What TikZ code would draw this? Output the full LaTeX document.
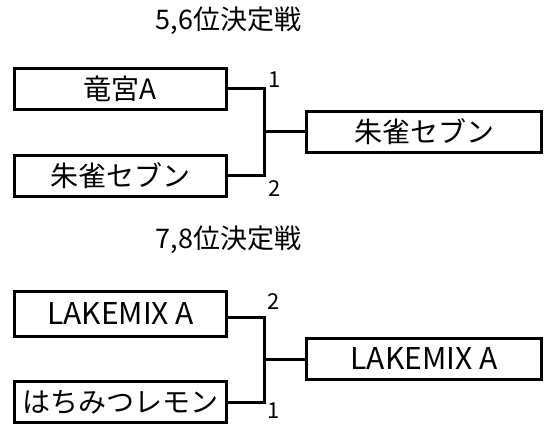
\documentclass[tikz,border=0pt]{standalone}
\usepackage{fontspec}
\setmainfont{Noto Sans CJK JP}
\begin{document}
\begin{tikzpicture}[x=1pt,y=-1pt,
  box/.style={draw,line width=3pt,inner sep=0pt,minimum width=212pt,minimum height=41pt,font=\fontsize{28}{30}\selectfont},
  winbox/.style={box,minimum width=235pt},
  latin/.style={font=\fontsize{30}{32}\selectfont},
  wire/.style={line width=3pt},
  title/.style={font=\fontsize{27}{30}\selectfont,inner sep=0pt},
  seed/.style={font=\fontsize{22}{24}\selectfont,inner sep=0pt}]
\useasboundingbox (0,0) rectangle (552,425);
% 5,6
\node[title] (t1) at (228.5,21) {5,6位決定戦};
\node[box] (b1) at (120.5,89) {竜宮A};
\node[box] (b2) at (120.5,176) {朱雀セブン};
\node[winbox] (b3) at (424,132) {朱雀セブン};
\coordinate (j1) at (264.5,132);
\draw[wire] (b1.east) -| (j1) |- (b2.east);
\draw[wire] (j1) -- (b3.west);
\node[seed] (s1) at (275,80) {1};
\node[seed] (s2) at (275,189) {2};
% 7,8
\node[title] (t2) at (228.5,240) {7,8位決定戦};
\node[box,latin,minimum height=45pt] (b4) at (120.5,314) {LAKEMIX A};
\node[box] (b5) at (120.5,402) {はちみつレモン};
\node[winbox,latin] (b6) at (424,359) {LAKEMIX A};
\coordinate (j2) at (264.5,359);
\draw[wire] ([yshift=-3pt]b4.east) -| (j2) |- (b5.east);
\draw[wire] (j2) -- (b6.west);
\node[seed] (s3) at (274,302) {2};
\node[seed] (s4) at (274,411) {1};
\end{tikzpicture}
\end{document}
